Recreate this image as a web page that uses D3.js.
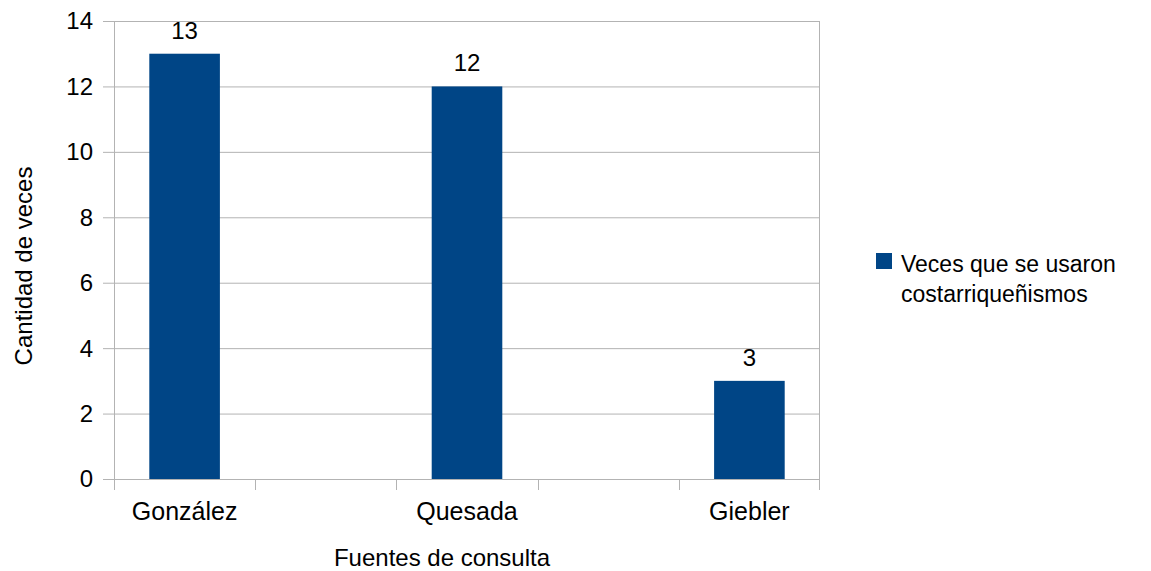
<!DOCTYPE html>
<html>
<head>
<meta charset="utf-8">
<script src="https://cdn.jsdelivr.net/npm/d3@7"></script>
<style>
  body { margin: 0; background: #fff; }
  text { font-family: "Liberation Sans", Arial, sans-serif; fill: #000; }
</style>
</head>
<body>
<div id="chart"></div>
<script>
// categories (blank slots keep the wide gaps between bars)
const categories = ['González', '', 'Quesada', '', 'Giebler'];
const values = [13, null, 12, null, 3];
const yTicks = [0, 2, 4, 6, 8, 10, 12, 14];
const seriesName = ['Veces que se usaron', 'costarriqueñismos'];

const width = 1151;
const height = 571;
const margin = { left: 114, right: 331, top: 21, bottom: 92 };
const plotW = width - margin.left - margin.right;
const plotH = height - margin.top - margin.bottom;

const svg = d3.select('#chart')
  .append('svg')
  .attr('width', width)
  .attr('height', height);

const g = svg.append('g').attr('transform', `translate(${margin.left},${margin.top})`);

const xScale = d3.scaleBand().domain(d3.range(categories.length)).range([0, plotW]).paddingInner(0).paddingOuter(0);
const yScale = d3.scaleLinear().domain([0, 14]).range([plotH, 0]);

// gridlines
g.append('g')
  .selectAll('line')
  .data(yTicks)
  .join('line')
  .attr('x1', -11)
  .attr('x2', plotW)
  .attr('y1', d => yScale(d) + 0.5)
  .attr('y2', d => yScale(d) + 0.5)
  .attr('stroke', '#b3b3b3');

// plot borders (left axis and right edge)
g.append('line').attr('x1', 0.5).attr('x2', 0.5).attr('y1', 0).attr('y2', plotH + 11).attr('stroke', '#b3b3b3');
g.append('line').attr('x1', plotW - 0.5).attr('x2', plotW - 0.5).attr('y1', 0).attr('y2', plotH + 11).attr('stroke', '#b3b3b3');

// category ticks
g.append('g')
  .selectAll('line')
  .data(d3.range(1, categories.length))
  .join('line')
  .attr('x1', d => Math.round(xScale(d)) + 0.5)
  .attr('x2', d => Math.round(xScale(d)) + 0.5)
  .attr('y1', plotH)
  .attr('y2', plotH + 11)
  .attr('stroke', '#b3b3b3');

// y tick labels
g.append('g')
  .selectAll('text')
  .data(yTicks)
  .join('text')
  .attr('x', -21)
  .attr('y', d => yScale(d))
  .attr('dy', '0.35em')
  .attr('text-anchor', 'end')
  .style('font-size', '24px')
  .text(d => d);

// bars
const bw = xScale.bandwidth() * 0.5;
const barData = categories.map((c, i) => ({ c, i, v: values[i] })).filter(d => d.v != null);

g.append('g')
  .selectAll('rect')
  .data(barData)
  .join('rect')
  .attr('x', d => xScale(d.i) + (xScale.bandwidth() - bw) / 2)
  .attr('y', d => yScale(d.v))
  .attr('width', bw)
  .attr('height', d => plotH - yScale(d.v))
  .attr('fill', '#004586');

// value labels
g.append('g')
  .selectAll('text')
  .data(barData)
  .join('text')
  .attr('x', d => xScale(d.i) + xScale.bandwidth() / 2)
  .attr('y', d => yScale(d.v) - 15)
  .attr('text-anchor', 'middle')
  .style('font-size', '24px')
  .text(d => d.v);

// category labels
g.append('g')
  .selectAll('text')
  .data(barData)
  .join('text')
  .attr('x', d => xScale(d.i) + xScale.bandwidth() / 2)
  .attr('y', plotH + 41)
  .attr('text-anchor', 'middle')
  .style('font-size', '25px')
  .text(d => d.c);

// axis titles
svg.append('text')
  .attr('x', 442)
  .attr('y', 566)
  .attr('text-anchor', 'middle')
  .style('font-size', '24px')
  .text('Fuentes de consulta');

svg.append('text')
  .attr('transform', 'translate(32, 266) rotate(-90)')
  .attr('text-anchor', 'middle')
  .style('font-size', '24px')
  .text('Cantidad de veces');

// legend
const legend = svg.append('g').attr('transform', 'translate(876, 253)');
legend.append('rect').attr('width', 16).attr('height', 16).attr('fill', '#004586');
legend.append('text')
  .selectAll('tspan')
  .data(seriesName)
  .join('tspan')
  .attr('x', 25)
  .attr('y', (d, i) => 19 + i * 30)
  .style('font-size', '23px')
  .text(d => d);
</script>
</body>
</html>
